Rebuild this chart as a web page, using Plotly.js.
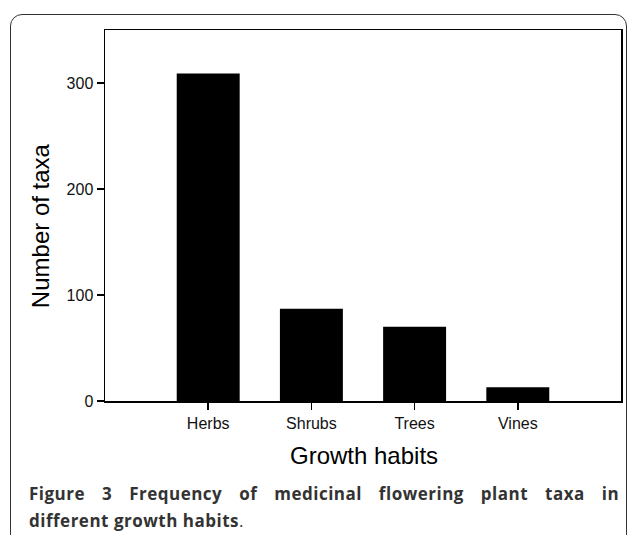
<!DOCTYPE html>
<html>
<head>
<meta charset="utf-8">
<script src="https://cdn.plot.ly/plotly-3.0.1.min.js"></script>
<style>
html,body{margin:0;padding:0;background:#fff;}
#wrap{position:relative;width:630px;height:535px;overflow:hidden;}
#frame{position:absolute;left:10px;top:14px;width:617px;height:540px;border:1.5px solid #333;border-radius:12px;box-sizing:border-box;pointer-events:none;}
#chart{position:absolute;left:0;top:0;width:630px;height:535px;}
g.annotation[data-index="2"] text, g.annotation[data-index="3"] text{letter-spacing:0.5px;}
g.annotation[data-index="2"] text{word-spacing:12px;}
</style>
</head>
<body>
<div id="wrap">
<div id="chart"></div>
<div id="frame"></div>
</div>
<script>
var categories = ["Herbs", "Shrubs", "Trees", "Vines"];
var taxaCounts = [309, 87, 70, 13];
var yTickValues = [0, 100, 200, 300];

var trace = {
  type: "bar",
  x: categories,
  y: taxaCounts,
  marker: {color: "#000000", line: {width: 0}},
  hoverinfo: "x+y"
};

var axisFont = {family: "Liberation Sans, Arial, sans-serif", size: 16, color: "#111"};
var titleFont = {family: "Liberation Sans, Arial, sans-serif", size: 24, color: "#000"};
var capFont = {family: "Open Sans, Noto Sans, sans-serif", size: 17, color: "#333"};
var layout = {
  width: 630,
  height: 535,
  margin: {l: 105, r: 9, t: 30, b: 134},
  paper_bgcolor: "rgba(0,0,0,0)",
  plot_bgcolor: "#ffffff",
  showlegend: false,
  bargap: 0.39,
  xaxis: {
    type: "category",
    range: [-1, 4],
    showline: true, linecolor: "#000", linewidth: 1.5, mirror: true,
    ticks: "outside", ticklen: 7, tickwidth: 1.5, tickcolor: "#000",
    showgrid: false, zeroline: false,
    tickfont: axisFont
  },
  yaxis: {
    range: [0, 350],
    tickvals: yTickValues,
    showline: true, linecolor: "#000", linewidth: 1.5, mirror: true,
    ticks: "outside", ticklen: 7, tickwidth: 1.5, tickcolor: "#000",
    showgrid: false, zeroline: false,
    tickfont: axisFont
  },
  annotations: [
    {
      xref: "paper", yref: "paper", x: 0.502, y: -0.1456,
      xanchor: "center", yanchor: "middle", showarrow: false,
      text: "Growth habits", font: titleFont
    },
    {
      xref: "paper", yref: "paper", x: -0.126, y: 0.474,
      xanchor: "center", yanchor: "middle", showarrow: false, textangle: -90,
      text: "Number of taxa", font: titleFont
    },
    {
      xref: "paper", yref: "paper", x: -0.1512, y: -0.248,
      xanchor: "left", yanchor: "middle", showarrow: false, align: "left",
      text: "<b>Figure 3</b> <b>Frequency of medicinal flowering plant taxa in</b>",
      font: capFont
    },
    {
      xref: "paper", yref: "paper", x: -0.1512, y: -0.3208,
      xanchor: "left", yanchor: "middle", showarrow: false, align: "left",
      text: "<b>different growth habits</b>.",
      font: capFont
    }
  ]
};

Plotly.newPlot("chart", [trace], layout, {displayModeBar: false, staticPlot: true});
</script>
</body>
</html>
